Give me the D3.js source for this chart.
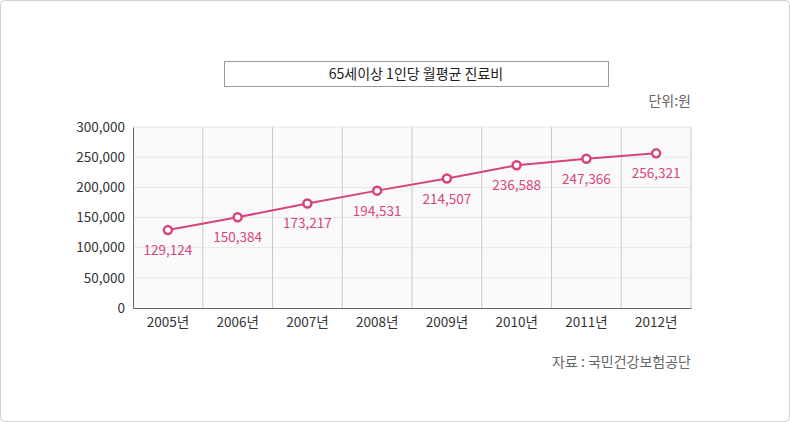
<!DOCTYPE html><html><head><meta charset="utf-8"><script src="https://cdn.jsdelivr.net/npm/d3@7"></script>
<style>body{margin:0;background:#fff}svg{font-family:"Noto Sans CJK KR","Noto Sans",sans-serif}</style></head><body><svg id="c" width="790" height="422"></svg>
<script>
const years=["2005년","2006년","2007년","2008년","2009년","2010년","2011년","2012년"];
const values=[129124,150384,173217,194531,214507,236588,247366,256321];
const yTicks=[0,50000,100000,150000,200000,250000,300000];
const svg=d3.select("#c");
svg.append("rect").attr("x",0.5).attr("y",0.5).attr("width",789).attr("height",421).attr("rx",4).attr("fill","#fff").attr("stroke","#d0d0d0");
const L=133,R=691,T=127,B=308;
const x=d3.scaleBand().domain(years).range([L,R]);
const y=d3.scaleLinear().domain([0,300000]).range([B,T]);
svg.append("rect").attr("x",L).attr("y",T).attr("width",R-L).attr("height",B-T).attr("fill","#fafafa");
svg.append("g").selectAll("line").data(yTicks.slice(1)).join("line").attr("x1",L).attr("x2",R).attr("y1",d=>y(d)).attr("y2",d=>y(d)).attr("stroke","#e6e6e6");
svg.append("g").selectAll("line").data(years.slice(1)).join("line").attr("x1",d=>x(d)).attr("x2",d=>x(d)).attr("y1",T).attr("y2",B).attr("stroke","#c8c8c8");
svg.append("line").attr("x1",R).attr("x2",R).attr("y1",T).attr("y2",B).attr("stroke","#c8c8c8");
const ya=svg.append("g").attr("transform",`translate(${L},0)`).call(d3.axisLeft(y).tickValues(yTicks).tickFormat(d3.format(",")).tickSize(0).tickPadding(8));
const xa=svg.append("g").attr("transform",`translate(0,${B})`).call(d3.axisBottom(x).tickSize(0).tickPadding(9));
[ya,xa].forEach(a=>{a.select(".domain").attr("stroke","#666");a.selectAll("text").attr("font-size",13.5).attr("fill","#333").attr("font-family","'Noto Sans CJK KR',sans-serif");});
const cx=d=>x(d)+x.bandwidth()/2;
svg.append("path").datum(values).attr("fill","none").attr("stroke","#d6447f").attr("stroke-width",2)
 .attr("d",d3.line().x((d,i)=>cx(years[i])).y(d=>y(d)));
svg.append("g").selectAll("circle").data(values).join("circle").attr("cx",(d,i)=>cx(years[i])).attr("cy",d=>y(d)).attr("r",4).attr("fill","#fff").attr("stroke","#d6447f").attr("stroke-width",2.5);
svg.append("g").selectAll("text").data(values).join("text").attr("x",(d,i)=>cx(years[i])).attr("y",d=>y(d)+25).attr("text-anchor","middle").attr("font-size",13.5).attr("fill","#d9437e").text(d3.format(","));
svg.append("rect").attr("x",224.5).attr("y",61.5).attr("width",384).attr("height",25).attr("fill","#fff").attr("stroke","#999");
svg.append("text").attr("x",416).attr("y",79).attr("text-anchor","middle").attr("font-size",14).attr("fill","#222").text("65세이상 1인당 월평균 진료비");
svg.append("text").attr("x",691).attr("y",106).attr("text-anchor","end").attr("font-size",14).attr("fill","#666").text("단위:원");
svg.append("text").attr("x",691).attr("y",367).attr("text-anchor","end").attr("font-size",14).attr("fill","#666").text("자료 : 국민건강보험공단");
</script></body></html>
